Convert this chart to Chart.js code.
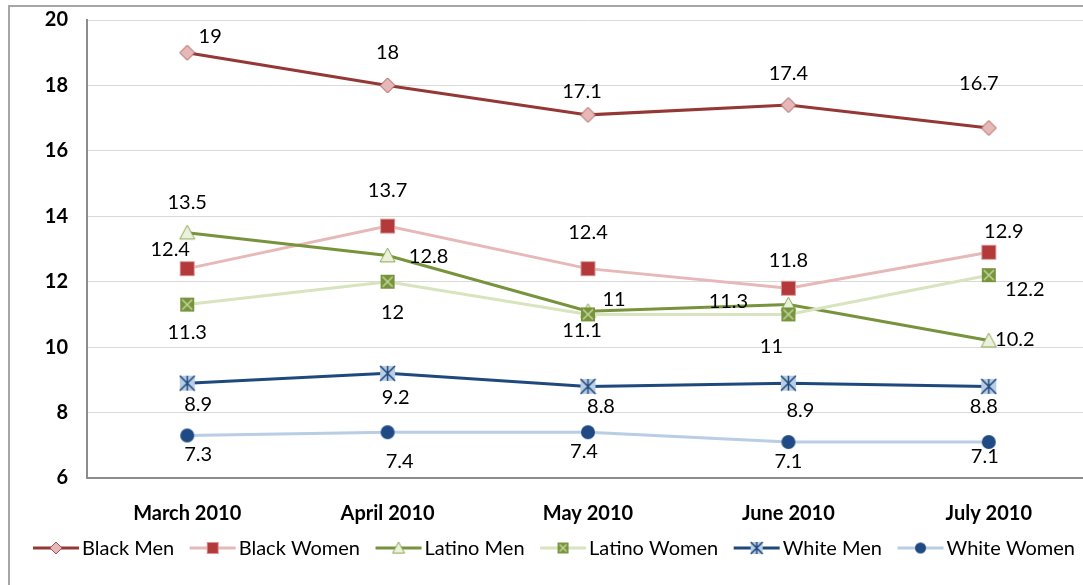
<!DOCTYPE html>
<html>
<head>
<meta charset="utf-8">
<script src="https://cdn.jsdelivr.net/npm/chart.js@4.4.1/dist/chart.umd.min.js"></script>
<style>
  html, body { margin: 0; padding: 0; background: #fff; overflow: hidden; }
  #wrap { position: relative; width: 1083px; height: 585px; overflow: hidden; }
  #frame { position: absolute; left: 8px; top: 5px; width: 1090px; height: 600px; border: 2px solid #a6a6a6; box-sizing: border-box; }
  #chart { position: absolute; left: 0; top: 0; }
</style>
</head>
<body>
<div id="wrap">
  <div id="frame"></div>
  <canvas id="chart" width="1100" height="585"></canvas>
</div>
<script>
const categories = ['March 2010', 'April 2010', 'May 2010', 'June 2010', 'July 2010'];
const seriesNames = ['Black Men', 'Black Women', 'Latino Men', 'Latino Women', 'White Men', 'White Women'];

const blackMen = [19, 18, 17.1, 17.4, 16.7];
const blackWomen = [12.4, 13.7, 12.4, 11.8, 12.9];
const latinoMen = [13.5, 12.8, 11.1, 11.3, 10.2];
const latinoWomen = [11.3, 12, 11, 11, 12.2];
const whiteMen = [8.9, 9.2, 8.8, 8.9, 8.8];
const whiteWomen = [7.3, 7.4, 7.4, 7.1, 7.1];

const yTicks = [6, 8, 10, 12, 14, 16, 18, 20];

// where each value label sits relative to its point (px)
const blackMenOff = [[23, -16], [0, -33], [-6, -23], [0, -32], [-10, -44]];
const blackWomenOff = [[-17, -19], [0, -36], [0, -36], [0, -28], [15, -21]];
const latinoMenOff = [[0, -30], [41, 1], [-6, 19], [-60, -3], [26, -1]];
const latinoWomenOff = [[0, 28], [5, 31], [26, -15], [-17, 32], [36, 14]];
const whiteMenOff = [[11, 21], [8, 24], [13, 20], [12, 27], [-5, 20]];
const whiteWomenOff = [[11, 19], [12, 29], [-4, 19], [0, 20], [-4, 15]];

const FONT = 'Lato, "Open Sans", sans-serif';

function marker(kind, size) {
    const c = document.createElement('canvas');
    c.width = size + 2; c.height = size + 2;
    const g = c.getContext('2d');
    const m = (size + 2) / 2, h = size / 2;
    g.lineWidth = 1;
    if (kind === 'diamond') {
        g.beginPath();
        g.moveTo(m, m - h); g.lineTo(m + h, m); g.lineTo(m, m + h); g.lineTo(m - h, m); g.closePath();
        g.fillStyle = '#e6b9b8'; g.fill();
        g.strokeStyle = '#a0514f'; g.stroke();
    } else if (kind === 'square') {
        g.fillStyle = '#b3393a';
        g.fillRect(m - h, m - h, size, size);
        g.strokeStyle = '#d99694'; g.strokeRect(m - h + 0.5, m - h + 0.5, size - 1, size - 1);
    } else if (kind === 'triangle') {
        g.beginPath();
        g.moveTo(m, m - h); g.lineTo(m + h, m + h * 0.85); g.lineTo(m - h, m + h * 0.85); g.closePath();
        g.fillStyle = '#ebf1de'; g.fill();
        g.strokeStyle = '#8aa84e'; g.stroke();
    } else if (kind === 'xsquare') {
        g.fillStyle = '#77933c';
        g.fillRect(m - h, m - h, size, size);
        g.strokeStyle = '#c3d69b'; g.lineWidth = 1.5;
        g.beginPath();
        g.moveTo(m - h + 2, m - h + 2); g.lineTo(m + h - 2, m + h - 2);
        g.moveTo(m + h - 2, m - h + 2); g.lineTo(m - h + 2, m + h - 2);
        g.stroke();
    } else if (kind === 'star') {
        g.fillStyle = '#b9cde5';
        g.fillRect(m - h, m - h, size, size);
        g.strokeStyle = '#1f497d'; g.lineWidth = 1.5;
        g.beginPath();
        g.moveTo(m - h, m - h); g.lineTo(m + h, m + h);
        g.moveTo(m + h, m - h); g.lineTo(m - h, m + h);
        g.moveTo(m, m - h); g.lineTo(m, m + h);
        g.stroke();
    } else if (kind === 'circle') {
        g.beginPath();
        g.arc(m, m, h, 0, Math.PI * 2);
        g.fillStyle = '#1f4a84'; g.fill();
    }
    return c;
}

const lineColors = ['#953735', '#e6b9b8', '#77933c', '#d7e4bd', '#1f497d', '#b9cde5'];
const markerKinds = ['diamond', 'square', 'triangle', 'xsquare', 'star', 'circle'];
const markerSizes = [15, 15, 15, 14, 15, 14];
const values = [blackMen, blackWomen, latinoMen, latinoWomen, whiteMen, whiteWomen];
const offsets = [blackMenOff, blackWomenOff, latinoMenOff, latinoWomenOff, whiteMenOff, whiteWomenOff];

const markers = markerKinds.map((k, i) => marker(k, markerSizes[i]));
const legendMarkers = markerKinds.map((k, i) => marker(k, markerSizes[i] - 3));

const datasets = values.map((v, i) => ({
    label: seriesNames[i],
    data: v,
    borderColor: lineColors[i],
    backgroundColor: lineColors[i],
    borderWidth: 3,
    tension: 0,
    pointStyle: markers[i],
    pointRadius: 8,
    order: 5 - i
}));

const valueLabels = {
    id: 'valueLabels',
    afterDatasetsDraw(chart) {
        const ctx = chart.ctx;
        ctx.save();
        ctx.font = '20px ' + FONT;
        ctx.fillStyle = '#000';
        ctx.textAlign = 'center';
        ctx.textBaseline = 'middle';
        chart.data.datasets.forEach((ds, i) => {
            const meta = chart.getDatasetMeta(i);
            meta.data.forEach((pt, j) => {
                const o = offsets[i][j];
                ctx.fillText(String(ds.data[j]), pt.x + o[0], pt.y + o[1]);
            });
        });
        ctx.restore();
    }
};

const bottomLegend = {
    id: 'bottomLegend',
    afterDraw(chart) {
        const ctx = chart.ctx;
        ctx.save();
        ctx.font = '20px ' + FONT;
        ctx.textBaseline = 'middle';
        ctx.textAlign = 'left';
        const sample = 46, pad = 3;
        const widths = seriesNames.map(n => ctx.measureText(n).width);
        const used = widths.reduce((a, b) => a + b + sample + pad, 0);
        const startX = 33, endX = 1075;
        const gap = (endX - startX - used) / (seriesNames.length - 1);
        const y = 548;
        let x = startX;
        seriesNames.forEach((n, i) => {
            ctx.strokeStyle = lineColors[i];
            ctx.lineWidth = 3;
            ctx.beginPath();
            ctx.moveTo(x, y); ctx.lineTo(x + sample, y);
            ctx.stroke();
            const mk = legendMarkers[i];
            ctx.drawImage(mk, x + sample / 2 - mk.width / 2, y - mk.height / 2);
            ctx.fillStyle = '#000';
            ctx.fillText(n, x + sample + pad, y + 1);
            x += sample + pad + widths[i] + gap;
        });
        ctx.restore();
    }
};

new Chart(document.getElementById('chart'), {
    type: 'line',
    data: { labels: categories, datasets: datasets },
    options: {
        responsive: false,
        animation: false,
        layout: { padding: { top: 20, right: 8, bottom: 57, left: 0 } },
        plugins: { legend: { display: false }, tooltip: { enabled: false } },
        scales: {
            x: {
                offset: true,
                grid: { display: false, drawTicks: false },
                border: { display: true, color: '#8c8c8c', width: 2 },
                ticks: { color: '#000', font: { family: FONT, size: 20, weight: 'bold' }, padding: 24, maxRotation: 0 },
                afterFit(s) { s.height = 50; s.paddingLeft = 0; s.paddingRight = 0; }
            },
            y: {
                min: 6,
                max: 20,
                afterBuildTicks(s) { s.ticks = yTicks.map(v => ({ value: v })); },
                grid: { color: '#d9d9d9', lineWidth: 1, drawTicks: false },
                border: { display: true, color: '#8c8c8c', width: 2 },
                ticks: { color: '#000', font: { family: FONT, size: 20, weight: 'bold' }, padding: 19 },
                afterFit(s) { s.width = 87; s.paddingTop = 0; s.paddingBottom = 0; }
            }
        }
    },
    plugins: [valueLabels, bottomLegend]
});
</script>
</body>
</html>
